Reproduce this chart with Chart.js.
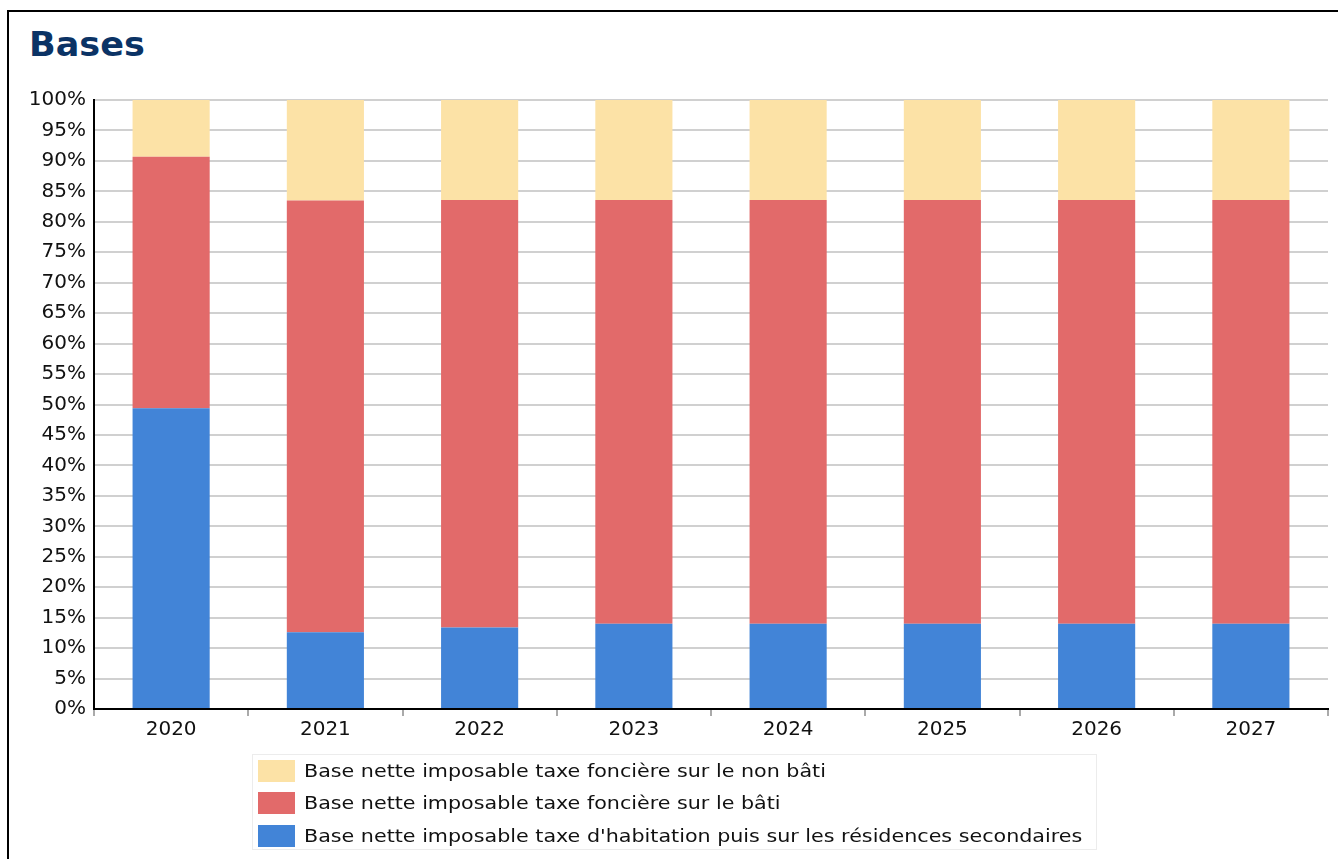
<!DOCTYPE html>
<html lang="fr">
<head>
<meta charset="utf-8">
<title>Bases</title>
<script src="https://cdn.jsdelivr.net/npm/chart.js@4.4.1/dist/chart.umd.min.js"></script>
<style>
  html, body { margin: 0; padding: 0; background: #fff; overflow: hidden; }
  body { width: 1338px; height: 859px; position: relative; font-family: "DejaVu Sans", sans-serif; }
  #frame { position: absolute; left: 7px; top: 10px; width: 1400px; height: 1000px; border: 2px solid #000; box-sizing: border-box; }
  #title { position: absolute; left: 29px; top: 24px; font: bold 34px "DejaVu Sans", sans-serif; color: #0b3365; line-height: 40px; transform: scaleX(1.03); transform-origin: 0 50%; }
  #wrap { position: absolute; left: 0; top: 0; width: 1338px; height: 760px; }
  #legend { position: absolute; left: 252px; top: 754px; width: 845px; height: 96px; border: 1px solid #ececec; box-sizing: border-box; padding-top: 5px; }
  .item { position: relative; height: 32.3px; }
  .swatch { position: absolute; left: 5px; top: 0; width: 37px; height: 22px; }
  .label { position: absolute; left: 51px; top: -1px; font: 17px "DejaVu Sans", sans-serif; color: #111; line-height: 24px; white-space: nowrap; transform: scaleX(1.215); transform-origin: 0 50%; }
</style>
</head>
<body>
<div id="frame"></div>
<div id="title">Bases</div>
<div id="wrap"><canvas id="chart"></canvas></div>
<div id="legend"></div>
<script>
// Years on the category axis
const years = ['2020', '2021', '2022', '2023', '2024', '2025', '2026', '2027'];

// Share of each tax base in the total (%)
const habitation = [49.4, 12.6, 13.4, 14.0, 14.0, 14.0, 14.0, 14.0];
const foncierBati = [41.3, 70.9, 70.2, 69.6, 69.6, 69.6, 69.6, 69.6];
const foncierNonBati = [9.3, 16.5, 16.4, 16.4, 16.4, 16.4, 16.4, 16.4];

// Series names
const seriesNames = [
  "Base nette imposable taxe d'habitation puis sur les résidences secondaires",
  'Base nette imposable taxe foncière sur le bâti',
  'Base nette imposable taxe foncière sur le non bâti'
];

// Percentage tick labels every 5 %
const tickValues = [0, 5, 10, 15, 20, 25, 30, 35, 40, 45, 50, 55, 60, 65, 70, 75, 80, 85, 90, 95, 100];

const colors = ['#4284d7', '#e26a6a', '#fce2a6'];
const font = { family: '"DejaVu Sans", sans-serif', size: 20 };

const chart = new Chart(document.getElementById('chart'), {
  type: 'bar',
  data: {
    labels: years,
    datasets: [habitation, foncierBati, foncierNonBati].map((values, i) => ({
      label: seriesNames[i],
      data: values,
      backgroundColor: colors[i],
      borderWidth: 0,
      barPercentage: 0.5,
      categoryPercentage: 1
    }))
  },
  options: {
    responsive: true,
    maintainAspectRatio: false,
    animation: false,
    layout: { padding: { top: 100, left: 0, right: 10, bottom: 0 } },
    plugins: {
      legend: { display: false },
      tooltip: { enabled: false },
      title: { display: false }
    },
    scales: {
      x: {
        stacked: true,
        offset: true,
        grid: { display: true, drawOnChartArea: false, drawTicks: true, tickLength: 7, color: '#aaaaaa', lineWidth: 2, offset: true },
        border: { display: true, color: '#000', width: 2 },
        ticks: { color: '#111', font: font, padding: 2, maxRotation: 0 },
        afterFit: (scale) => { scale.height = 51; }
      },
      y: {
        stacked: true,
        min: 0,
        max: 100,
        afterBuildTicks: (scale) => { scale.ticks = tickValues.map(v => ({ value: v })); },
        grid: { color: '#d0d0d0', lineWidth: 2, drawTicks: false },
        border: { display: true, color: '#000', width: 2 },
        ticks: { color: '#111', font: font, padding: 8, callback: (v) => v + '%' },
        afterFit: (scale) => { scale.width = 94; }
      }
    }
  }
});

// Legend built from the chart's datasets, top stack first
const legend = document.getElementById('legend');
chart.data.datasets.slice().reverse().forEach((ds) => {
  const item = document.createElement('div');
  item.className = 'item';
  const sw = document.createElement('div');
  sw.className = 'swatch';
  sw.style.background = ds.backgroundColor;
  const lb = document.createElement('div');
  lb.className = 'label';
  lb.textContent = ds.label;
  item.appendChild(sw);
  item.appendChild(lb);
  legend.appendChild(item);
});
</script>
</body>
</html>
